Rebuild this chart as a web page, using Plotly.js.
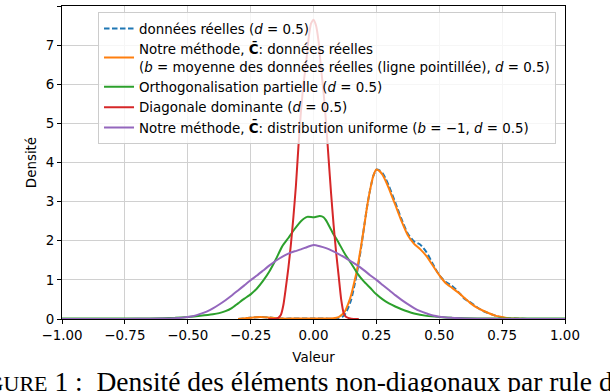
<!DOCTYPE html>
<html>
<head>
<meta charset="utf-8">
<script src="https://cdn.plot.ly/plotly-3.0.1.min.js"></script>
<style>
  html, body { margin: 0; padding: 0; background: #fff; }
  #chart { width: 610px; height: 392px; }
</style>
</head>
<body>
<div id="chart"></div>
<script>
// values
const xReal = [-0.3, -0.27, -0.24, -0.21, -0.18, -0.15, -0.12, -0.08, -0.04, 0, 0.04, 0.08, 0.1, 0.115, 0.125,
  0.1375, 0.15, 0.1625, 0.175, 0.1875, 0.2, 0.2125, 0.225, 0.2375, 0.25, 0.2625, 0.275, 0.2875, 0.3,
  0.325, 0.35, 0.375, 0.4, 0.425, 0.45, 0.475, 0.5, 0.525, 0.55, 0.575, 0.6, 0.625, 0.65, 0.675, 0.7,
  0.725, 0.75, 0.775, 0.8, 0.85];
const yReal = [0, 0.02, 0.04, 0.05, 0.04, 0.02, 0.01, 0.01, 0.01, 0.01, 0.01, 0.01, 0.02, 0.06, 0.12,
  0.28, 0.5, 0.85, 1.25, 1.75, 2.3, 2.85, 3.3, 3.65, 3.82, 3.8, 3.72, 3.58, 3.4,
  2.98, 2.55, 2.18, 1.98, 1.9, 1.7, 1.4, 1.12, 0.95, 0.85, 0.7, 0.52, 0.42, 0.3, 0.2, 0.14,
  0.08, 0.04, 0.02, 0.01, 0];
const yOurs = [0, 0.02, 0.04, 0.05, 0.04, 0.02, 0.01, 0.01, 0.01, 0.01, 0.01, 0.02, 0.05, 0.12, 0.2,
  0.38, 0.62, 0.95, 1.32, 1.8, 2.3, 2.85, 3.3, 3.65, 3.82, 3.78, 3.68, 3.52, 3.33,
  2.92, 2.5, 2.14, 1.92, 1.78, 1.6, 1.36, 1.12, 0.92, 0.8, 0.68, 0.54, 0.4, 0.29, 0.21, 0.14,
  0.08, 0.05, 0.02, 0.01, 0];

const xOrtho = [-1, -0.9, -0.8, -0.7, -0.6, -0.55, -0.5, -0.45, -0.4, -0.375, -0.35, -0.325, -0.3, -0.275,
  -0.25, -0.225, -0.2, -0.175, -0.15, -0.125, -0.1, -0.075, -0.05, -0.025, 0, 0.025, 0.04, 0.05, 0.075,
  0.1, 0.125, 0.15, 0.175, 0.2, 0.225, 0.25, 0.275, 0.3, 0.325, 0.35, 0.375, 0.4, 0.45, 0.5, 0.55, 0.6,
  0.7, 0.8, 1];
const yOrtho = [0.01, 0.01, 0.01, 0.01, 0.02, 0.03, 0.05, 0.08, 0.12, 0.15, 0.2, 0.28, 0.4, 0.52,
  0.63, 0.78, 0.98, 1.22, 1.52, 1.85, 2.07, 2.3, 2.5, 2.61, 2.6, 2.63, 2.6, 2.52, 2.22,
  1.95, 1.66, 1.42, 1.16, 0.96, 0.8, 0.63, 0.5, 0.4, 0.32, 0.25, 0.19, 0.14, 0.08, 0.05, 0.03, 0.02,
  0.01, 0.01, 0.01];

const xDiag = [-0.18, -0.15, -0.14, -0.13, -0.12, -0.11, -0.1, -0.09, -0.08, -0.07, -0.06, -0.05, -0.04,
  -0.03, -0.02, -0.01, 0, 0.01, 0.02, 0.03, 0.04, 0.05, 0.06, 0.07, 0.08, 0.09, 0.1, 0.11, 0.12, 0.13,
  0.15, 0.18];
const yDiag = [0, 0.01, 0.03, 0.1, 0.35, 0.8, 1.3, 1.9, 2.6, 3.4, 4.4, 5.3, 6.0,
  6.5, 7.15, 7.55, 7.65, 7.5, 7.1, 6.4, 5.8, 5.0, 4.1, 3.2, 2.4, 1.7, 1.1, 0.5, 0.15, 0.05,
  0.01, 0];

const xUnif = [-1, -0.8, -0.7, -0.6, -0.55, -0.5, -0.475, -0.45, -0.425, -0.4, -0.375, -0.35, -0.325, -0.3,
  -0.275, -0.25, -0.225, -0.2, -0.175, -0.15, -0.125, -0.1, -0.075, -0.05, -0.025, 0, 0.025, 0.05, 0.075,
  0.1, 0.125, 0.15, 0.175, 0.2, 0.225, 0.25, 0.275, 0.3, 0.325, 0.35, 0.375, 0.4, 0.425, 0.45, 0.475,
  0.5, 0.55, 0.6, 0.7, 0.8, 1];
const yUnif = [0, 0, 0.005, 0.01, 0.02, 0.05, 0.08, 0.13, 0.19, 0.27, 0.37, 0.48, 0.6, 0.73,
  0.86, 0.99, 1.11, 1.24, 1.37, 1.49, 1.59, 1.67, 1.73, 1.78, 1.84, 1.89, 1.86, 1.81, 1.74,
  1.66, 1.57, 1.47, 1.37, 1.25, 1.12, 1.0, 0.87, 0.74, 0.61, 0.49, 0.38, 0.28, 0.2, 0.14, 0.09,
  0.06, 0.03, 0.015, 0.005, 0, 0];

const names = [
  'données réelles (<i>d</i> = 0.5)',
  'Notre méthode, <b>C̄</b>: données réelles<br>(<i>b</i> = moyenne des données réelles (ligne pointillée), <i>d</i> = 0.5)',
  'Orthogonalisation partielle (<i>d</i> = 0.5)',
  'Diagonale dominante (<i>d</i> = 0.5)',
  'Notre méthode, <b>C̄</b>: distribution uniforme (<i>b</i> = −1, <i>d</i> = 0.5)'
];
const colors = ['#1f77b4', '#ff7f0e', '#2ca02c', '#d62728', '#9467bd'];
const xTicks = [-1, -0.75, -0.5, -0.25, 0, 0.25, 0.5, 0.75, 1];
const yTicks = [0, 1, 2, 3, 4, 5, 6, 7, 8];
const caption = 'F<span style="font-size:22px">IGURE</span> 1 : &nbsp;Densité des éléments non-diagonaux par rule de';

const font = 'DejaVu Sans, sans-serif';

function line(x, y, i, dash) {
  return {
    type: 'scatter', mode: 'lines', x: x, y: y, name: names[i],
    line: { color: colors[i], width: 2, dash: dash || 'solid', shape: 'spline', smoothing: 0.5 }
  };
}

const traces = [
  line(xReal, yReal, 0, '5.5px,2.5px'),
  line(xReal, yOurs, 1),
  line(xOrtho, yOrtho, 2),
  line(xDiag, yDiag, 3),
  line(xUnif, yUnif, 4)
];

const axisCommon = {
  showline: true, linecolor: '#000', linewidth: 1, mirror: true,
  ticks: 'outside', ticklen: 4, tickcolor: '#000', tickwidth: 1,
  showgrid: true, gridcolor: '#d0d0d0', gridwidth: 1.2, zeroline: false,
  tickfont: { family: font, size: 13.4, color: '#000' }
};

const layout = {
  width: 610, height: 392,
  margin: { l: 62, r: 45, t: 6, b: 73 },
  paper_bgcolor: '#fff', plot_bgcolor: '#fff',
  font: { family: font, size: 13.4, color: '#000' },
  xaxis: Object.assign({}, axisCommon, {
    range: [-1, 1], tickvals: xTicks, tickformat: '.2f',
    title: { text: 'Valeur', font: { family: font, size: 13.4 }, standoff: 10 }
  }),
  yaxis: Object.assign({}, axisCommon, {
    range: [0, 8], tickvals: yTicks,
    title: { text: 'Densité', font: { family: font, size: 13.4 }, standoff: 6 }
  }),
  showlegend: true,
  legend: {
    x: 0.0716, y: 0.98, xanchor: 'left', yanchor: 'top',
    bgcolor: 'rgba(255,255,255,0.8)', bordercolor: '#cccccc', borderwidth: 1,
    font: { family: font, size: 13.4, color: '#000' }
  },
  annotations: [{
    xref: 'paper', yref: 'paper', x: -0.196, y: -0.201,
    xanchor: 'left', yanchor: 'middle', showarrow: false,
    text: caption,
    font: { family: 'Liberation Serif, Times New Roman, serif', size: 27.5, color: '#000' }
  }]
};

Plotly.newPlot('chart', traces, layout, { displayModeBar: false, staticPlot: true });
</script>
</body>
</html>
